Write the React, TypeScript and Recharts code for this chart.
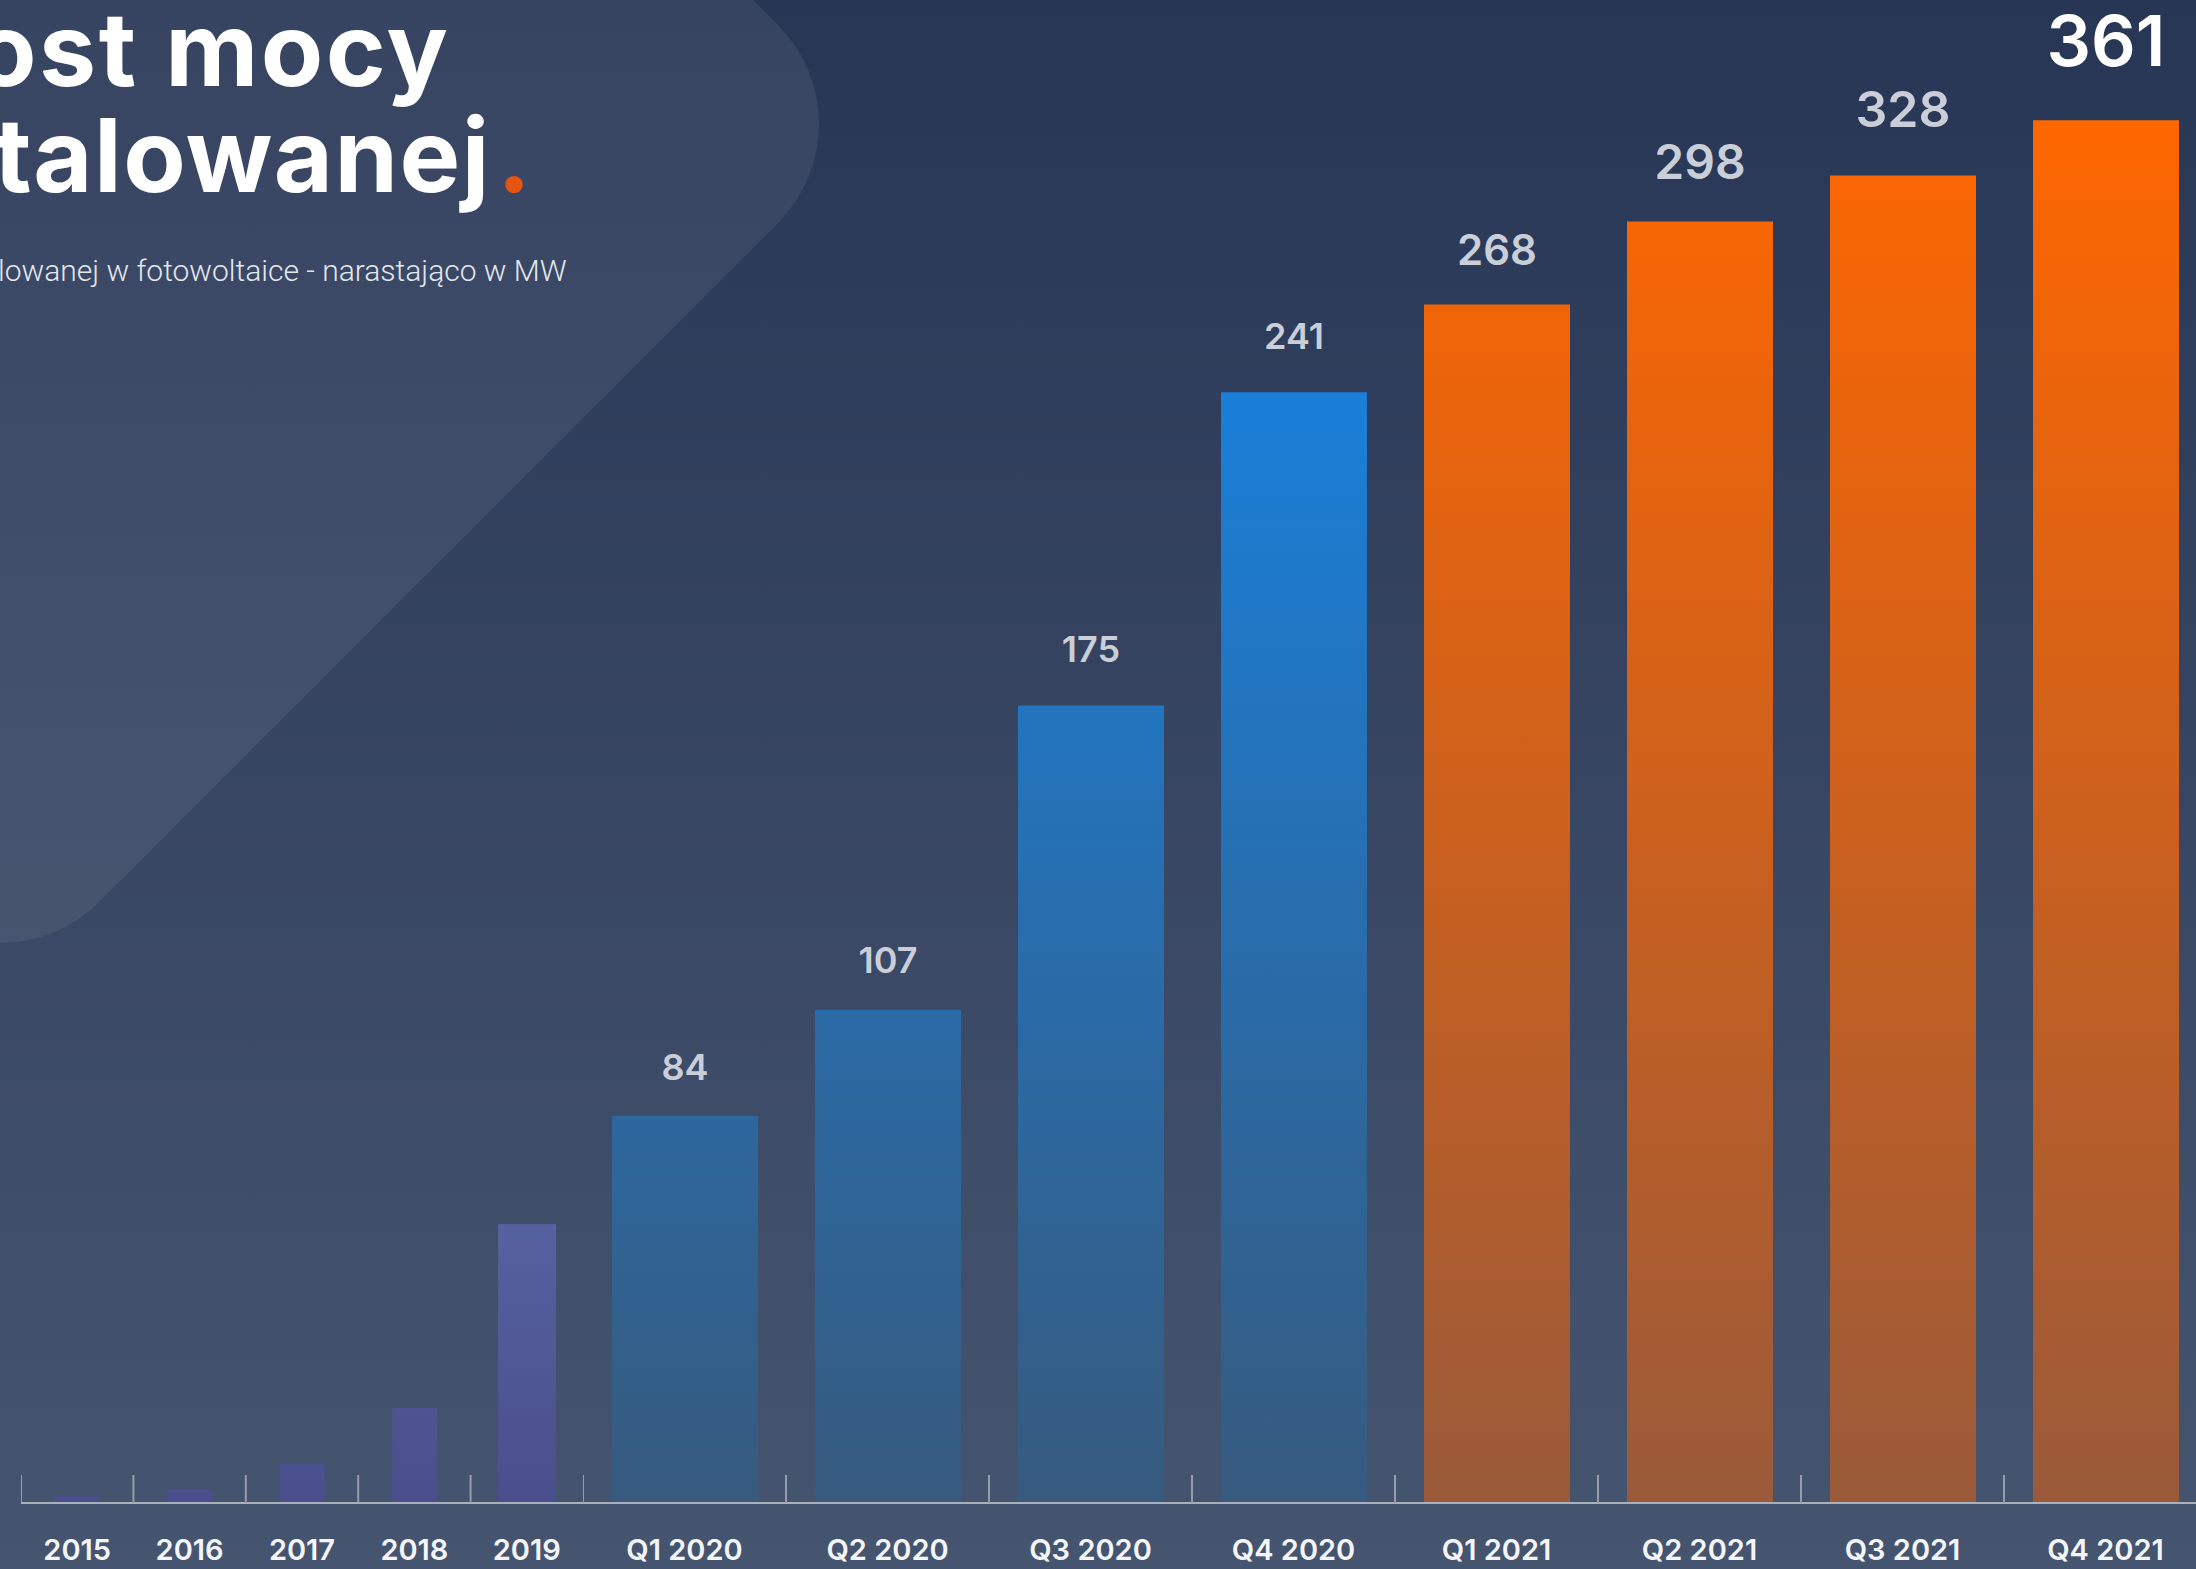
import React from "react";
import { BarChart, Bar, XAxis, YAxis, Cell, LabelList } from "recharts";

// yearly totals (no printed labels in the source)
const years = ["2015", "2016", "2017", "2018", "2019"];
const yearValues = [1.5, 3, 8.5, 20.6, 60.5];

const quarters = ["Q1 2020", "Q2 2020", "Q3 2020", "Q4 2020", "Q1 2021", "Q2 2021", "Q3 2021", "Q4 2021"];
// printed values in MW
const quarterLabels = [84, 107, 175, 241, 268, 298, 328, 361];
// bar heights as drawn in the source (the 2021 bars are squeezed there)
const quarterBars = [84, 107, 173, 241, 260, 278, 288, 300];

const W = 2196;
const H = 1569;
const TOP = 28;
const AXIS_H = 66;
const BASE = H - AXIS_H;
const Y_MAX = 320;

const YEAR_LEFT = 21;
const YEAR_W = 562;
const Q_LEFT = 583;
const Q_W = 1624;

const FONT = "Inter, 'Open Sans', sans-serif";
const LABEL_SIZE = [36, 36, 36, 36, 42, 48, 50, 70];
const LABEL_GAP = [36, 37, 44, 43, 40, 43, 49, 54];

const yearData = years.map((name, i) => ({ name, value: yearValues[i] }));
const quarterData = quarters.map((name, i) => ({ name, value: quarterBars[i], label: quarterLabels[i] }));

const makeTick = (band: number) => (props: any) => {
  const x = Number(props.x);
  const left = x - band / 2;
  return (
    <g>
      <line x1={left} x2={left} y1={BASE - 28} y2={BASE} stroke="#959cab" strokeWidth={2} />
      <text x={x} y={BASE + 57} textAnchor="middle" fill="#f4f5f8" fontFamily={FONT} fontSize={29} fontWeight={600}>
        {props.payload.value}
      </text>
    </g>
  );
};

const renderQuarterLabel = (props: any) => {
  const { index, value } = props;
  const x = Number(props.x);
  const y = Number(props.y);
  const width = Number(props.width);
  const last = index === quarters.length - 1;
  return (
    <text
      x={x + width / 2}
      y={y - LABEL_GAP[index]}
      textAnchor="middle"
      fontFamily={FONT}
      fontSize={LABEL_SIZE[index]}
      fontWeight={600}
      fill={last ? "#ffffff" : "#c9ced8"}
    >
      {value}
    </text>
  );
};

const yearShape = (props: any) => {
  const { x, y, width, height, payload } = props;
  const w = payload.name === "2019" ? width * 1.29 : width;
  return <rect x={x + width / 2 - w / 2} y={y} width={w} height={height} fill="url(#purpleGrad)" />;
};

export default function App() {
  return (
    <div style={{ position: "absolute", left: 0, top: 0, width: W, height: H, overflow: "hidden" }}>
      <svg width={W} height={H} style={{ position: "absolute", left: 0, top: 0 }}>
        <defs>
          <linearGradient id="bgGrad" x1="0" y1="0" x2="0" y2="1">
            <stop offset="0%" stopColor="#283656" />
            <stop offset="100%" stopColor="#46556f" />
          </linearGradient>
          <linearGradient id="purpleGrad" gradientUnits="userSpaceOnUse" x1="0" y1="1224" x2="0" y2="1503">
            <stop offset="0%" stopColor="#56619f" />
            <stop offset="100%" stopColor="#4a4e8c" />
          </linearGradient>
          <linearGradient id="blueGrad" gradientUnits="userSpaceOnUse" x1="0" y1="391" x2="0" y2="1503">
            <stop offset="0%" stopColor="#1a7fd8" />
            <stop offset="100%" stopColor="#375a7e" />
          </linearGradient>
          <linearGradient id="orangeGrad" gradientUnits="userSpaceOnUse" x1="0" y1="110" x2="0" y2="1503">
            <stop offset="0%" stopColor="#ff6700" />
            <stop offset="100%" stopColor="#9a5a3a" />
          </linearGradient>
        </defs>
        <rect x={0} y={0} width={W} height={H} fill="url(#bgGrad)" />
        <path
          d="M -1000 -1753 L 778 25 A 140 140 0 0 1 778 223 L 99 902 A 140 140 0 0 1 -99 902 L -1000 1 Z"
          fill="#ffffff"
          fillOpacity={0.07}
        />
        <text x={-26} y={86} fontFamily={FONT} fontSize={102} fontWeight={700} letterSpacing={2.5} fill="#ffffff">
          ost mocy
        </text>
        <text x={-6} y={192} fontFamily={FONT} fontSize={102} fontWeight={700} letterSpacing={1.5} fill="#ffffff">
          talowanej<tspan fill="#e6540f" dx={6}>.</tspan>
        </text>
        <text x={-2} y={281} fontFamily="Roboto, sans-serif" fontSize={30} fontWeight={300} fill="#e3e7ee">
          lowanej w fotowoltaice - narastająco w MW
        </text>
      </svg>

      <div style={{ position: "absolute", left: YEAR_LEFT, top: 0 }}>
        <BarChart width={YEAR_W} height={H} data={yearData} margin={{ top: TOP, right: 0, bottom: 0, left: 0 }}>
          <YAxis hide domain={[0, Y_MAX]} />
          <XAxis
            dataKey="name"
            height={AXIS_H}
            interval={0}
            axisLine={{ stroke: "#aab0ba", strokeWidth: 2 }}
            tickLine={false}
            tick={makeTick(YEAR_W / years.length)}
          />
          <Bar dataKey="value" barSize={45} isAnimationActive={false} shape={yearShape} />
        </BarChart>
      </div>

      <div style={{ position: "absolute", left: Q_LEFT, top: 0 }}>
        <BarChart width={Q_W} height={H} data={quarterData} margin={{ top: TOP, right: 0, bottom: 0, left: 0 }}>
          <YAxis hide domain={[0, Y_MAX]} />
          <XAxis
            dataKey="name"
            height={AXIS_H}
            interval={0}
            axisLine={{ stroke: "#aab0ba", strokeWidth: 2 }}
            tickLine={false}
            tick={makeTick(Q_W / quarters.length)}
          />
          <Bar dataKey="value" barSize={146} isAnimationActive={false}>
            {quarterData.map((d) => (
              <Cell key={d.name} fill={d.name.endsWith("2021") ? "url(#orangeGrad)" : "url(#blueGrad)"} />
            ))}
            <LabelList dataKey="label" content={renderQuarterLabel} />
          </Bar>
        </BarChart>
      </div>
    </div>
  );
}
